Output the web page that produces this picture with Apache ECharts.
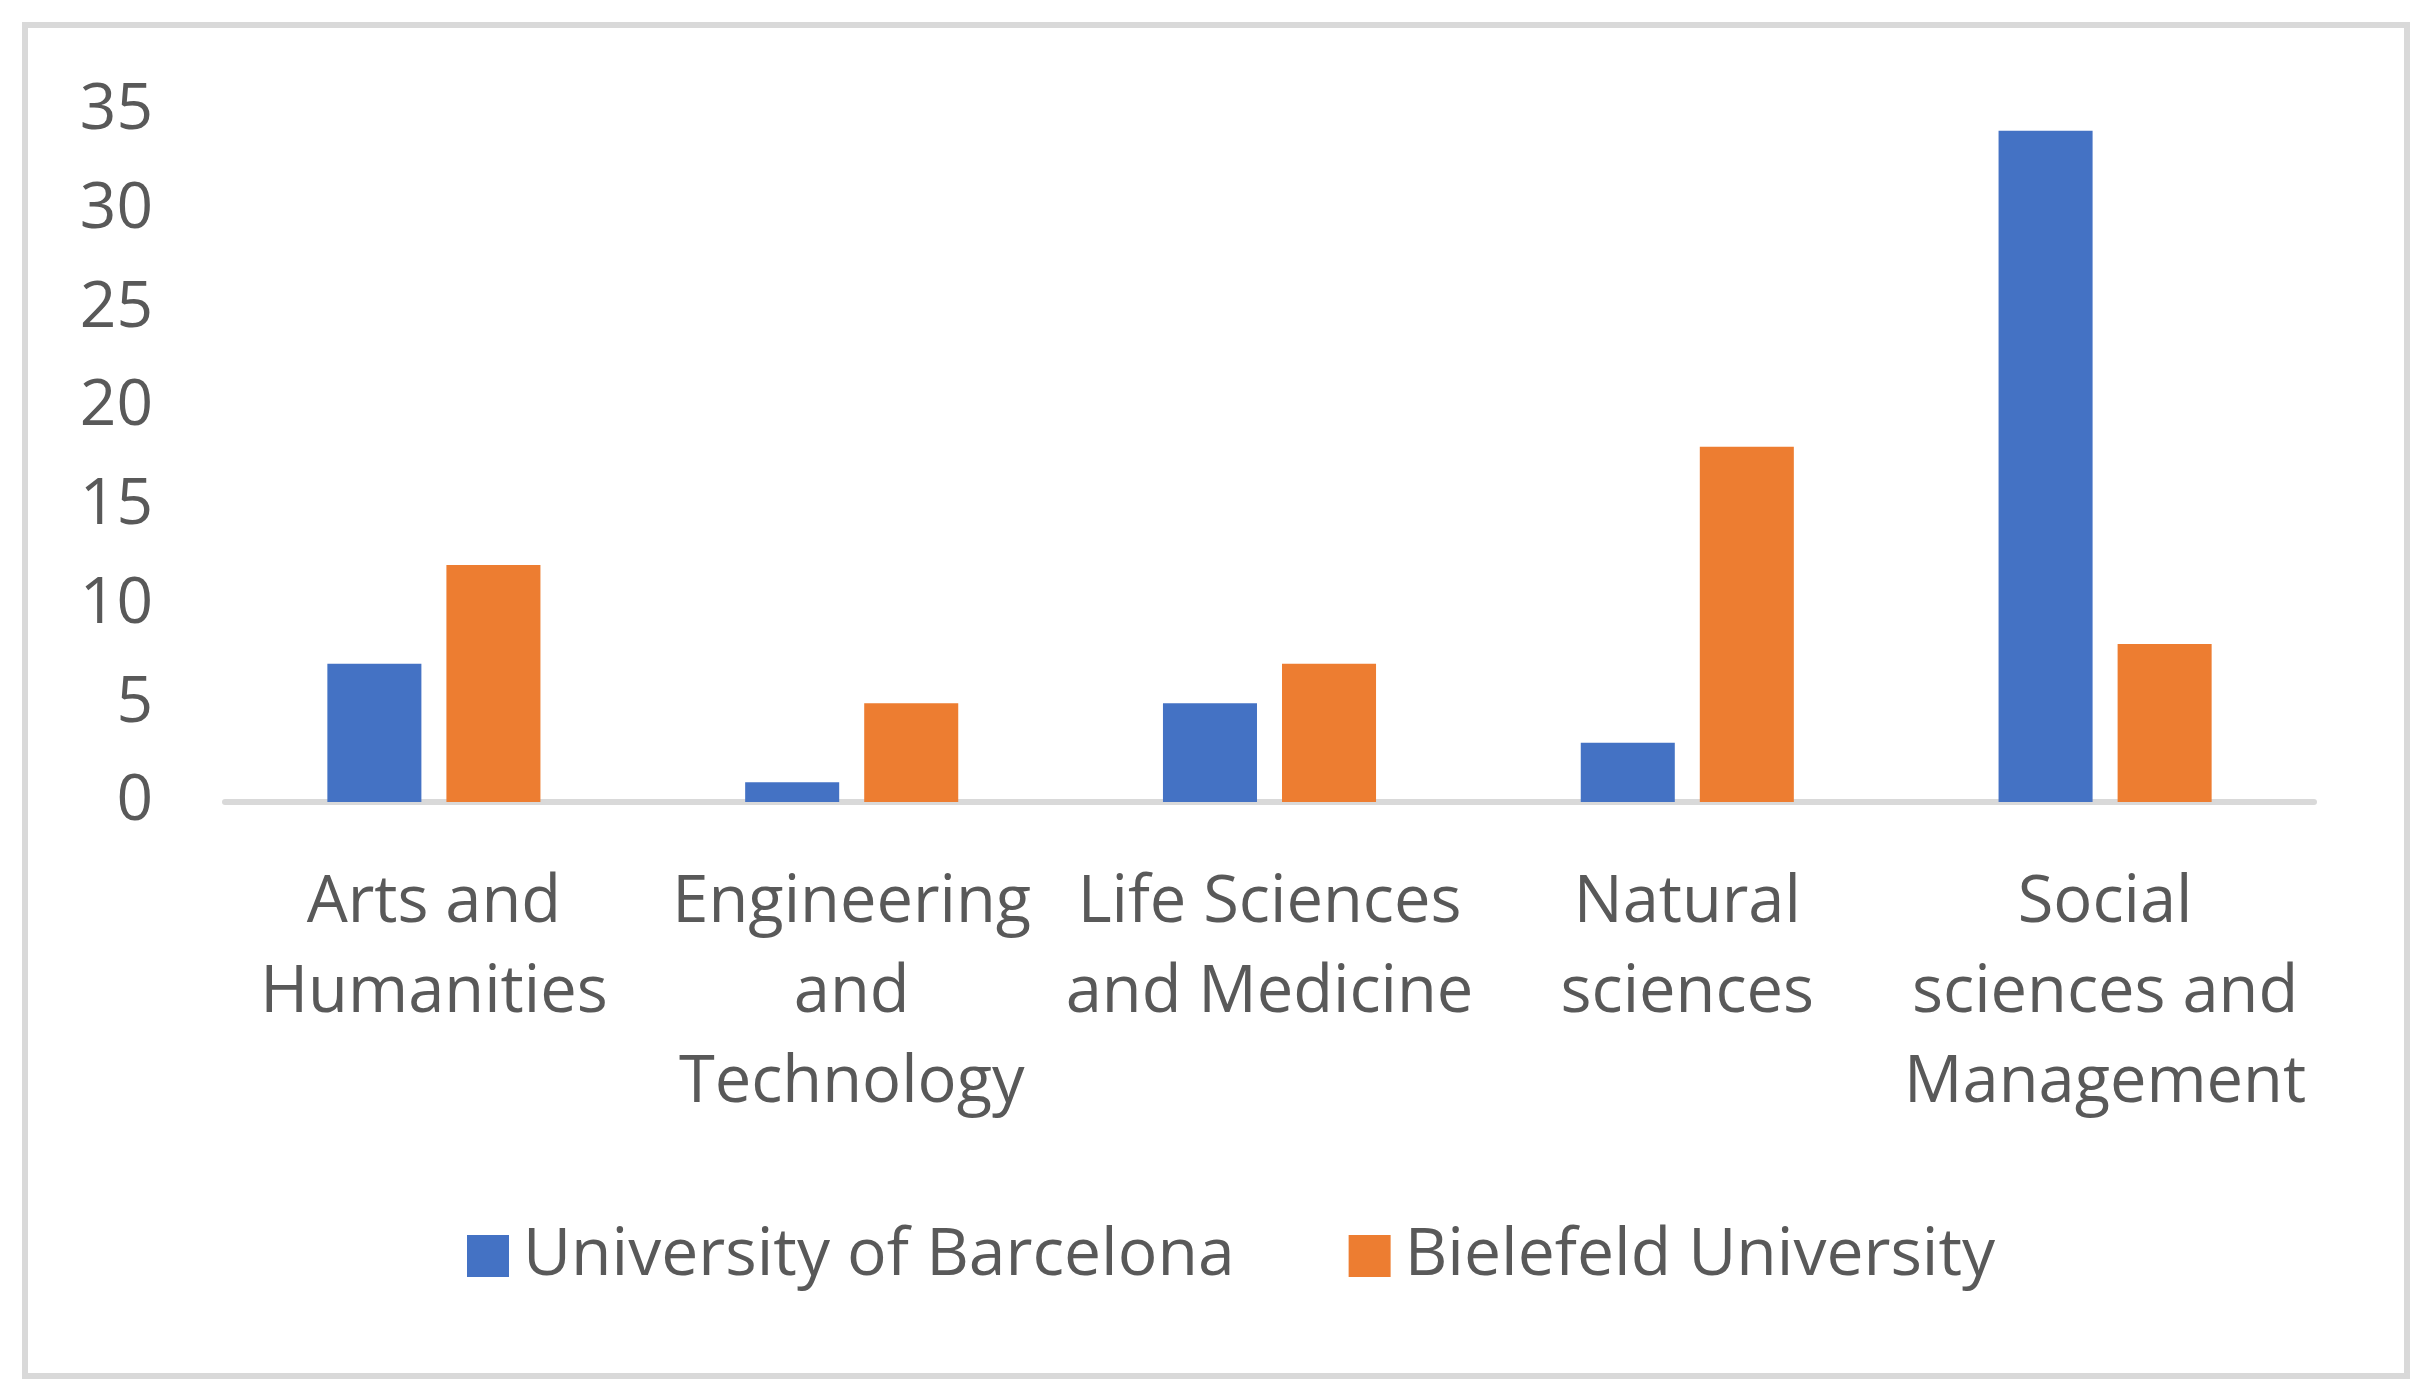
<!DOCTYPE html>
<html>
<head>
<meta charset="utf-8">
<script src="https://cdn.jsdelivr.net/npm/echarts@6/dist/echarts.min.js"></script>
<style>html,body{margin:0;padding:0;background:#fff;}#c{width:2435px;height:1400px;}</style>
</head>
<body>
<div id="c"></div>
<script>
var categories = ["Arts and Humanities", "Engineering and Technology", "Life Sciences and Medicine", "Natural sciences", "Social sciences and Management"];
var categoryLabels = ["Arts and\nHumanities", "Engineering\nand\nTechnology", "Life Sciences\nand Medicine", "Natural\nsciences", "Social\nsciences and\nManagement"];
var seriesNames = ["University of Barcelona", "Bielefeld University"];
var barcelona = [7, 1, 5, 3, 34];
var bielefeld = [12, 5, 7, 18, 8];
var yTicks = [0, 5, 10, 15, 20, 25, 30, 35];

var FONT = "Open Sans";
var TXT = "#595959";
var chart = echarts.init(document.getElementById('c'), null, {renderer: 'canvas'});
chart.setOption({
  animation: false,
  backgroundColor: '#ffffff',
  color: ['#4472C4', '#ED7D31'],
  graphic: [{
    type: 'rect',
    shape: {x: 25, y: 25, width: 2382, height: 1351},
    style: {fill: 'none', stroke: '#d9d9d9', lineWidth: 6},
    silent: true
  }],
  grid: {left: 225, right: 121, top: 111, bottom: 598, containLabel: false},
  legend: {
    left: 462,
    top: 1218,
    itemWidth: 42,
    itemHeight: 42,
    itemGap: 114,
    icon: 'rect',
    textStyle: {fontFamily: FONT, fontSize: 66, color: TXT, padding: [0, 0, 0, 9]},
    data: seriesNames
  },
  xAxis: {
    type: 'category',
    data: categories,
    axisLine: {lineStyle: {color: '#d9d9d9', width: 6}},
    axisTick: {show: false},
    axisLabel: {
      interval: 0,
      margin: 56,
      fontFamily: FONT,
      fontSize: 65,
      lineHeight: 90,
      color: TXT,
      align: 'center',
      formatter: function (v, i) { return categoryLabels[i]; }
    }
  },
  yAxis: {
    type: 'value',
    min: yTicks[0],
    max: yTicks[yTicks.length - 1],
    interval: 5,
    axisLine: {show: false},
    axisTick: {show: false},
    splitLine: {show: false},
    axisLabel: {margin: 72, fontFamily: FONT, fontSize: 64, color: TXT}
  },
  series: [
    {name: seriesNames[0], type: 'bar', data: barcelona, barGap: '26.6%', barCategoryGap: '49%'},
    {name: seriesNames[1], type: 'bar', data: bielefeld, barGap: '26.6%', barCategoryGap: '49%'}
  ]
});
</script>
</body>
</html>
